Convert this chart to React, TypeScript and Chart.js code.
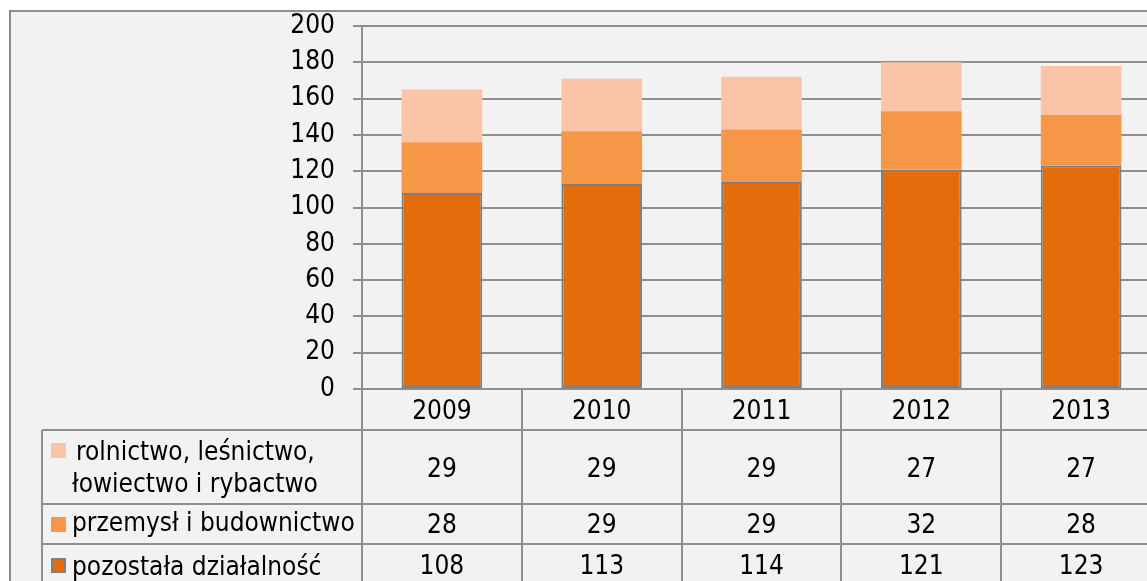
import React, { useEffect, useRef } from "react";
import { Chart, registerables } from "chart.js";

Chart.register(...registerables);

const years = ["2009", "2010", "2011", "2012", "2013"];
const seriesNames = ["pozostała działalność", "przemysł i budownictwo", "rolnictwo, leśnictwo, łowiectwo i rybactwo"];
const pozostala = [108, 113, 114, 121, 123];
const przemysl = [28, 29, 29, 32, 28];
const rolnictwo = [29, 29, 29, 27, 27];
const yTicks = [0, 20, 40, 60, 80, 100, 120, 140, 160, 180, 200];

const COLORS = ["#E46C0A", "#F79646", "#FAC4A8"];
const LINE = "#8e8e8e";
const FONT_FAMILY = '"DejaVu Sans Condensed", "DejaVu Sans", sans-serif';
const FONT_SIZE = 26;

const W = 1170;
const H = 600;

const tablePlugin = {
  id: "dataTable",
  beforeDraw(chart: any) {
    const ctx = chart.ctx;
    ctx.save();
    ctx.fillStyle = "#ffffff";
    ctx.fillRect(0, 0, chart.width, chart.height);
    ctx.fillStyle = "#f2f2f2";
    ctx.fillRect(10, 11, chart.width, chart.height);
    ctx.strokeStyle = LINE;
    ctx.lineWidth = 2;
    ctx.strokeRect(10, 11, chart.width + 20, chart.height + 20);
    ctx.restore();
  },
  afterDraw(chart: any) {
    const ctx = chart.ctx;
    const x = chart.scales.x;
    const area = chart.chartArea;
    const n = years.length;
    const step = x.getPixelForValue(1) - x.getPixelForValue(0);
    const axisY = area.bottom;
    const headerBottom = 430;
    const row1Bottom = 504;
    const row2Bottom = 544;
    const tableLeft = 42;
    const right = chart.width;
    ctx.save();
    ctx.strokeStyle = LINE;
    ctx.lineWidth = 2;
    ctx.beginPath();
    ctx.moveTo(area.left - 9, axisY);
    ctx.lineTo(right, axisY);
    for (let i = 0; i <= n; i++) {
      const px = Math.round(x.getPixelForValue(0) - step / 2 + i * step);
      ctx.moveTo(px, axisY);
      ctx.lineTo(px, chart.height);
    }
    ctx.moveTo(tableLeft, headerBottom);
    ctx.lineTo(tableLeft, chart.height);
    [headerBottom, row1Bottom, row2Bottom].forEach((yy) => {
      ctx.moveTo(tableLeft, yy);
      ctx.lineTo(right, yy);
    });
    ctx.stroke();

    ctx.fillStyle = "#000000";
    ctx.font = `${FONT_SIZE}px ${FONT_FAMILY}`;
    ctx.textAlign = "center";
    ctx.textBaseline = "alphabetic";
    const rows = [rolnictwo, przemysl, pozostala];
    const rowBase = [477, 533, 574];
    for (let i = 0; i < n; i++) {
      const cx = x.getPixelForValue(i);
      ctx.fillText(years[i], cx, 419);
      rows.forEach((r, k) => ctx.fillText(String(r[i]), cx, rowBase[k]));
    }

    ctx.textAlign = "left";
    const legendColors = [COLORS[2], COLORS[1], COLORS[0]];
    const markerY = [443, 517, 558];
    legendColors.forEach((c, k) => {
      ctx.fillStyle = c;
      ctx.fillRect(51, markerY[k], 15, 15);
      if (k === 2) {
        ctx.strokeStyle = "#7f7f7f";
        ctx.lineWidth = 2;
        ctx.strokeRect(52, markerY[k] + 1, 13, 13);
      }
    });
    ctx.fillStyle = "#000000";
    ctx.fillText("rolnictwo, leśnictwo,", 76, 460);
    ctx.fillText("łowiectwo i rybactwo", 72, 492);
    ctx.fillText(seriesNames[1], 72, 531);
    ctx.fillText(seriesNames[0], 72, 575);
    ctx.restore();
  },
};

export default function App() {
  const ref = useRef<HTMLCanvasElement | null>(null);
  useEffect(() => {
    if (!ref.current) return;
    const chart = new Chart(ref.current, {
      type: "bar",
      data: {
        labels: years,
        datasets: [
          {
            label: seriesNames[0],
            data: pozostala,
            backgroundColor: COLORS[0],
            borderColor: "#7f7f7f",
            borderWidth: 2,
            borderSkipped: false,
          },
          { label: seriesNames[1], data: przemysl, backgroundColor: COLORS[1], borderWidth: 0 },
          { label: seriesNames[2], data: rolnictwo, backgroundColor: COLORS[2], borderWidth: 0 },
        ],
      },
      options: {
        animation: false,
        responsive: false,
        devicePixelRatio: 1,
        layout: { padding: { left: 0, top: 26, right: W - 1161, bottom: H - 389 } },
        datasets: { bar: { categoryPercentage: 1, barPercentage: 0.505 } },
        plugins: { legend: { display: false }, tooltip: { enabled: false } },
        scales: {
          x: { type: "category", stacked: true, display: false },
          y: {
            stacked: true,
            min: 0,
            max: 200,
            afterFit: (s: any) => {
              s.width = 362;
              s.paddingTop = 0;
              s.paddingBottom = 0;
            },
            afterBuildTicks: (s: any) => {
              s.ticks = yTicks.map((v) => ({ value: v }));
            },
            ticks: {
              color: "#000000",
              padding: 18,
              font: { family: FONT_FAMILY, size: FONT_SIZE },
            },
            grid: { color: LINE, lineWidth: 2, tickLength: 9, drawTicks: true },
            border: { color: LINE, width: 2 },
          },
        },
      },
      plugins: [tablePlugin],
    });
    return () => chart.destroy();
  }, []);
  return (
    <div
      style={{
        position: "fixed",
        left: 0,
        top: 0,
        width: 1147,
        height: 581,
        overflow: "hidden",
        background: "#ffffff",
      }}
    >
      <canvas ref={ref} width={W} height={H} style={{ display: "block", width: W, height: H }} />
    </div>
  );
}
